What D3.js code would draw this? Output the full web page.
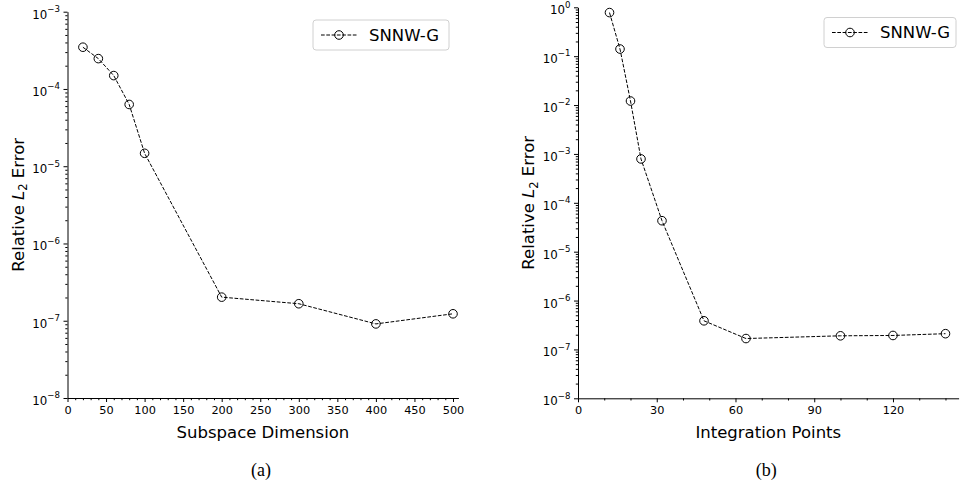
<!DOCTYPE html>
<html><head><meta charset="utf-8">
<script src="https://cdn.jsdelivr.net/npm/d3@7"></script>
<style>
body{margin:0;background:#fff}
text{font-family:"DejaVu Sans",sans-serif;fill:#000}
</style>
</head><body>
<svg id="c" width="967" height="493" xmlns="http://www.w3.org/2000/svg"></svg>
<script>
// ---- data ----
const subspaceDims = [20, 40, 60, 80, 100, 200, 300, 400, 500];
const subspaceErr  = [3.47e-4, 2.47e-4, 1.49e-4, 6.3e-5, 1.47e-5, 2.02e-7, 1.66e-7, 9.1e-8, 1.23e-7];
const integPoints  = [12, 16, 20, 24, 32, 48, 64, 100, 120, 140];
const integErr     = [0.78, 0.14, 0.0121, 7.9e-4, 4.3e-5, 3.85e-7, 1.67e-7, 1.9e-7, 1.93e-7, 2.1e-7];
const xTicksA = [0, 50, 100, 150, 200, 250, 300, 350, 400, 450, 500];
const xTicksB = [0, 30, 60, 90, 120];
const yExpA = [-3, -4, -5, -6, -7, -8];
const yExpB = [0, -1, -2, -3, -4, -5, -6, -7, -8];
const seriesName = "SNNW-G";
const xLabelA = "Subspace Dimension";
const xLabelB = "Integration Points";
const captionA = "(a)";
const captionB = "(b)";

const svg = d3.select("#c");

const panels = [
  {xs: subspaceDims, ys: subspaceErr, xDom: [0, 507], xRange: [67.5, 458.4], yDom: [1e-8, 1e-3], yRange: [398, 11.7],
   xTicks: xTicksA, minorStep: 10, yExp: yExpA, xLabel: xLabelA, caption: captionA,
   legend: {x: 313, y: 20, w: 136, h: 30}},
  {xs: integPoints, ys: integErr, xDom: [0, 145], xRange: [578, 958.6], yDom: [1e-8, 1], yRange: [398.3, 7.3],
   xTicks: xTicksB, minorStep: 10, yExp: yExpB, xLabel: xLabelB, caption: captionB,
   legend: {x: 824, y: 17.5, w: 132, h: 30}}
];

const minus = "\u2212";

panels.forEach(p => {
  const x = d3.scaleLinear().domain(p.xDom).range(p.xRange);
  const y = d3.scaleLog().domain(p.yDom).range(p.yRange);
  const g = svg.append("g");
  const x0 = p.xRange[0], yB = p.yRange[0];

  // minor x ticks
  const minorX = d3.range(p.xDom[0], p.xDom[1] + 0.001, p.minorStep).filter(v => !p.xTicks.includes(v));
  g.append("g").attr("transform", `translate(0,${yB})`)
    .call(d3.axisBottom(x).tickValues(minorX).tickSize(2.2).tickFormat(""))
    .call(s => s.select(".domain").remove());
  // major x ticks
  const gx = g.append("g").attr("transform", `translate(0,${yB})`)
    .call(d3.axisBottom(x).tickValues(p.xTicks).tickSize(4).tickPadding(4).tickSizeOuter(0).tickFormat(d3.format("d")));
  gx.selectAll("text").attr("font-size", 11.3).attr("font-family", "DejaVu Sans").attr("fill", "#000");
  gx.select(".domain").attr("stroke", "#000").attr("stroke-width", 1);

  // minor y ticks
  const minorY = [];
  for (let e = Math.round(Math.log10(p.yDom[0])); e < Math.round(Math.log10(p.yDom[1])); e++)
    for (let m = 2; m <= 9; m++) minorY.push(m * Math.pow(10, e));
  g.append("g").attr("transform", `translate(${x0},0)`)
    .call(d3.axisLeft(y).tickValues(minorY).tickSize(2.2).tickFormat(""))
    .call(s => s.select(".domain").remove());
  // major y ticks
  const gy = g.append("g").attr("transform", `translate(${x0},0)`)
    .call(d3.axisLeft(y).tickValues(p.yExp.map(e => Math.pow(10, e))).tickSize(4).tickPadding(3.5).tickSizeOuter(0).tickFormat(""));
  gy.select(".domain").attr("stroke", "#000").attr("stroke-width", 1);
  gy.selectAll(".tick").each(function(d) {
    const e = Math.round(Math.log10(d));
    const t = d3.select(this).select("text").text(null)
      .attr("font-size", 11.8).attr("font-family", "DejaVu Sans").attr("fill", "#000").attr("dy", "0.55em");
    t.append("tspan").text("10");
    t.append("tspan").attr("font-size", 8.6).attr("dy", "-0.78em").text(e === 0 ? "0" : minus + Math.abs(e));
  });

  // line
  const line = d3.line().x((d, i) => x(p.xs[i])).y(d => y(d));
  g.append("path").datum(p.ys).attr("d", line)
    .attr("fill", "none").attr("stroke", "#000").attr("stroke-width", 1)
    .attr("stroke-dasharray", "3.7,1.6");
  g.selectAll("circle.pt").data(p.ys).join("circle").attr("class", "pt")
    .attr("cx", (d, i) => x(p.xs[i])).attr("cy", d => y(d)).attr("r", 4.3)
    .attr("fill", "none").attr("stroke", "#000").attr("stroke-width", 1);

  // y label
  const cy = (p.yRange[0] + p.yRange[1]) / 2;
  const yl = g.append("text").attr("transform", `translate(${x0 - 44},${cy}) rotate(-90)`)
    .attr("text-anchor", "middle").attr("font-size", 16.5);
  yl.append("tspan").text("Relative ");
  yl.append("tspan").attr("font-style", "italic").text("L");
  yl.append("tspan").attr("font-size", 11.5).attr("dy", 3.5).text("2");
  yl.append("tspan").attr("dy", -3.5).text(" Error");

  // x label
  const cx = (p.xRange[0] + p.xRange[1]) / 2;
  g.append("text").attr("x", cx).attr("y", 438).attr("text-anchor", "middle").attr("font-size", 16.5).text(p.xLabel);
  // caption
  g.append("text").attr("x", cx - 2).attr("y", 476).attr("text-anchor", "middle")
    .attr("font-size", 18).style("font-family", "'Liberation Serif', serif").text(p.caption);

  // legend
  const L = p.legend;
  const lg = g.append("g").attr("transform", `translate(${L.x},${L.y})`);
  lg.append("rect").attr("width", L.w).attr("height", L.h).attr("rx", 3)
    .attr("fill", "#fff").attr("stroke", "#d0d0d0").attr("stroke-width", 1);
  lg.append("line").attr("x1", 8).attr("x2", 44).attr("y1", L.h / 2).attr("y2", L.h / 2)
    .attr("stroke", "#000").attr("stroke-width", 1).attr("stroke-dasharray", "3.7,1.6");
  lg.append("circle").attr("cx", 26).attr("cy", L.h / 2).attr("r", 4.3)
    .attr("fill", "none").attr("stroke", "#000").attr("stroke-width", 1);
  lg.append("text").attr("x", 56).attr("y", L.h / 2).attr("dy", "0.36em").attr("font-size", 16.5).text(seriesName);
});
</script>
</body></html>
